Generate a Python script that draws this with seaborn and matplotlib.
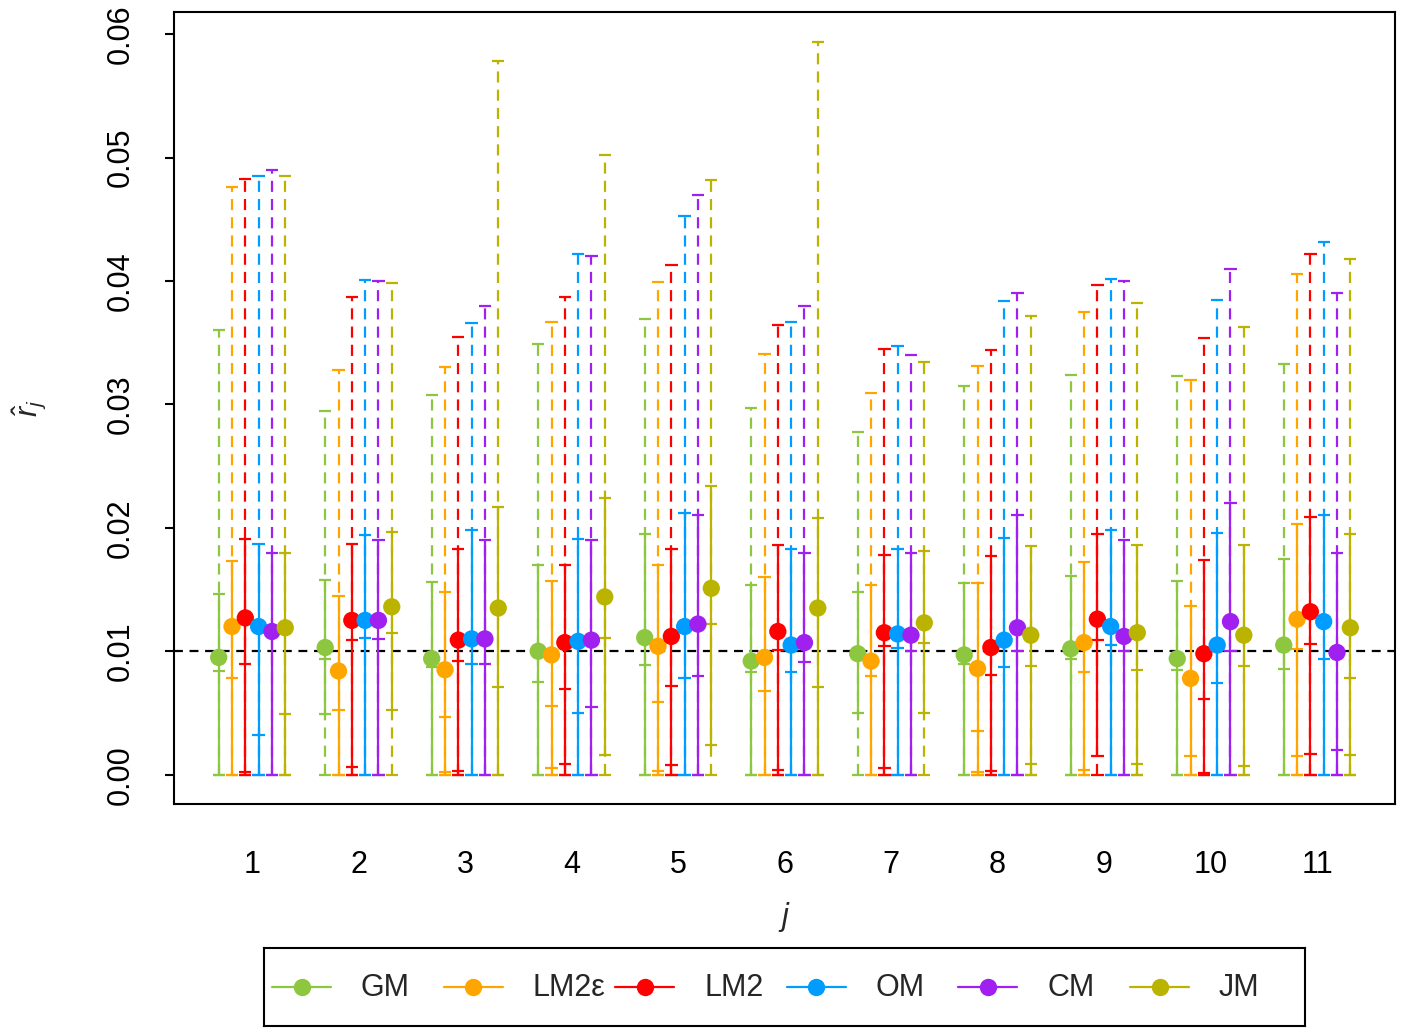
import numpy as np
import pandas as pd
import matplotlib
matplotlib.use("Agg")
import matplotlib.pyplot as plt
import seaborn as sns

# ---------------- data ----------------
groups = list(range(1, 12))
models = ["GM", "LM2ε", "LM2", "OM", "CM", "JM"]
colors = ["#8DC63F", "#FFA500", "#FF0000", "#009CFF", "#A020F0", "#BAB400"]
nan = np.nan

# point estimates
estimate = [
    [0.0095, 0.0103, 0.0094, 0.0100, 0.0111, 0.0092, 0.0098, 0.0097, 0.0102, 0.0094, 0.0105],  # GM
    [0.0120, 0.0084, 0.0085, 0.0097, 0.0104, 0.0095, 0.0092, 0.0086, 0.0107, 0.0078, 0.0126],  # LM2e
    [0.0127, 0.0125, 0.0109, 0.0107, 0.0112, 0.0116, 0.0115, 0.0103, 0.0126, 0.0098, 0.0132],  # LM2
    [0.0120, 0.0125, 0.0110, 0.0108, 0.0120, 0.0105, 0.0114, 0.0109, 0.0120, 0.0105, 0.0124],  # OM
    [0.0116, 0.0125, 0.0110, 0.0109, 0.0122, 0.0107, 0.0113, 0.0119, 0.0112, 0.0124, 0.0099],  # CM
    [0.0119, 0.0136, 0.0135, 0.0144, 0.0151, 0.0135, 0.0123, 0.0113, 0.0115, 0.0113, 0.0119],  # JM
]
# upper end of the dashed interval (dashed interval starts at 0)
dashed_hi = [
    [0.0360, 0.0295, 0.0308, 0.0349, 0.0369, 0.0297, 0.0278, 0.0315, 0.0324, 0.0323, 0.0333],
    [0.0476, 0.0328, 0.0330, 0.0367, 0.0399, 0.0341, 0.0309, 0.0331, 0.0375, 0.0320, 0.0406],
    [0.0483, 0.0387, 0.0355, 0.0387, 0.0413, 0.0364, 0.0345, 0.0344, 0.0397, 0.0354, 0.0422],
    [0.0485, 0.0401, 0.0366, 0.0422, 0.0453, 0.0367, 0.0347, 0.0384, 0.0402, 0.0385, 0.0432],
    [0.0490, 0.0400, 0.0380, 0.0420, 0.0470, 0.0380, 0.0340, 0.0390, 0.0400, 0.0410, 0.0390],
    [0.0485, 0.0398, 0.0578, 0.0502, 0.0482, 0.0594, 0.0334, 0.0372, 0.0382, 0.0363, 0.0418],
]
# solid interval
solid_lo = [
    [0.0, 0.0049, 0.0, 0.0, 0.0, 0.0, 0.0050, 0.0, 0.0, 0.0, 0.0],
    [0.0] * 11,
    [0.0, 0.0, 0.0, 0.0, 0.0, 0.0, 0.0, 0.0, 0.0015, 0.0, 0.0],
    [0.0] * 11,
    [0.0] * 11,
    [0.0, 0.0052, 0.0, 0.0016, 0.0024, 0.0, 0.0050, 0.0, 0.0, 0.0, 0.0],
]
solid_hi = [
    [0.0146, 0.0158, 0.0156, 0.0170, 0.0195, 0.0154, 0.0148, 0.0155, 0.0161, 0.0157, 0.0175],
    [0.0173, 0.0145, 0.0148, 0.0157, 0.0170, 0.0160, 0.0154, 0.0155, 0.0172, 0.0137, 0.0203],
    [0.0191, 0.0187, 0.0183, 0.0170, 0.0183, 0.0186, 0.0178, 0.0177, 0.0195, 0.0174, 0.0209],
    [0.0187, 0.0194, 0.0198, 0.0191, 0.0212, 0.0183, 0.0183, 0.0192, 0.0198, 0.0196, 0.0210],
    [0.0180, 0.0190, 0.0190, 0.0190, 0.0210, 0.0180, 0.0180, 0.0210, 0.0190, 0.0220, 0.0180],
    [0.0180, 0.0197, 0.0217, 0.0224, 0.0234, 0.0208, 0.0181, 0.0185, 0.0186, 0.0186, 0.0195],
]
# additional interval end marks
extra_a = [
    [0.0084, 0.0094, 0.0087, 0.0075, 0.0089, 0.0083, nan, 0.0090, 0.0094, 0.0085, 0.0086],
    [0.0078, 0.0052, 0.0047, 0.0056, 0.0059, 0.0068, 0.0080, 0.0035, 0.0083, 0.0015, 0.0102],
    [0.0090, 0.0109, 0.0092, 0.0069, 0.0072, 0.0101, 0.0104, 0.0081, 0.0109, 0.0061, 0.0106],
    [0.0032, 0.0111, 0.0090, 0.0050, 0.0078, 0.0083, 0.0103, 0.0087, 0.0105, 0.0074, 0.0094],
    [nan, 0.0110, 0.0090, 0.0055, 0.0080, 0.0091, 0.0100, 0.0100, 0.0100, 0.0100, 0.0020],
    [0.0049, 0.0115, 0.0071, 0.0111, 0.0122, 0.0071, 0.0107, 0.0088, 0.0085, 0.0088, 0.0078],
]
extra_b = [
    [nan] * 11,
    [nan, nan, 0.0002, 0.0005, 0.0003, nan, nan, 0.0002, 0.0004, nan, 0.0015],
    [0.0002, 0.0006, 0.0003, 0.0009, 0.0008, 0.0004, 0.0005, 0.0003, nan, 0.0001, 0.0017],
    [nan] * 11,
    [nan] * 11,
    [nan, nan, nan, nan, nan, nan, nan, 0.0009, 0.0009, 0.0007, 0.0016],
]
reference_value = 0.01
ytick_vals = [0.00, 0.01, 0.02, 0.03, 0.04, 0.05, 0.06]
ytick_labels = ["0.00", "0.01", "0.02", "0.03", "0.04", "0.05", "0.06"]

# ---------------- style ----------------
sns.set_style("white")
plt.rcParams["font.family"] = ["Liberation Sans", "DejaVu Sans"]
plt.rcParams["mathtext.fontset"] = "custom"
plt.rcParams["mathtext.rm"] = "Liberation Sans"
plt.rcParams["mathtext.it"] = "Liberation Sans:italic"

W, H = 1411, 1028
fig = plt.figure(figsize=(W / 100, H / 100), dpi=100)
ax = fig.add_axes([174 / W, 1 - 804 / H, (1395 - 174) / W, (804 - 12) / H])

step = 0.125
offsets = [(i - 2.5) * step for i in range(len(models))]
cap = 0.058
lw = 1.6
dash = (0, (5.0, 3.2))

ax.axhline(reference_value, color="black", lw=1.6, ls=(0, (4, 3)), zorder=1)

rows = []
for i, (m, c) in enumerate(zip(models, colors)):
    x = np.array(groups) + offsets[i]
    dh = np.array(dashed_hi[i])
    sl = np.array(solid_lo[i])
    sh = np.array(solid_hi[i])
    ax.vlines(x, 0, dh, colors=c, lw=lw, linestyles=[dash], zorder=2)
    ax.vlines(x, sl, sh, colors=c, lw=lw, zorder=2.5)
    marks = [np.zeros(len(x)), sl, sh, dh, np.array(extra_a[i]), np.array(extra_b[i])]
    for v in marks:
        ok = ~np.isnan(v)
        ax.hlines(v[ok], x[ok] - cap, x[ok] + cap, colors=c, lw=lw, zorder=2.5)
    for g, xv, e in zip(groups, x, estimate[i]):
        rows.append({"j": g, "model": m, "x": xv, "est": e})

df = pd.DataFrame(rows)
sns.scatterplot(data=df, x="x", y="est", hue="model", hue_order=models,
                palette=dict(zip(models, colors)), s=155, linewidth=0,
                legend=False, ax=ax, zorder=4)

ax.set_xlim(0.268, 11.732)
ax.set_ylim(-0.00238, 0.0618)
ax.set_xticks(groups)
ax.set_xticklabels([str(g) for g in groups])
ax.set_yticks(ytick_vals)
ax.set_yticklabels(ytick_labels, rotation=90, va="center")
ax.tick_params(axis="x", length=0, pad=33, labelsize=22, colors="black")
ax.tick_params(axis="y", length=6.5, width=1.5, pad=21, labelsize=22, colors="black", left=True)
for sp in ax.spines.values():
    sp.set_color("black")
    sp.set_linewidth(1.5)
    sp.set_visible(True)

ax.set_xlabel("$j$", fontsize=22)
ax.set_ylabel(r"$\hat{r}_j$", fontsize=22)
ax.xaxis.set_label_coords(0.5, -0.121)
ax.yaxis.set_label_coords(-0.103, 0.5)

# ---------------- legend ----------------
lax = fig.add_axes([264 / W, 1 - 1026 / H, (1305 - 264) / W, (1026 - 948) / H])
lax.set_xlim(264, 1305)
lax.set_ylim(1026, 948)
lax.set_xticks([])
lax.set_yticks([])
for sp in lax.spines.values():
    sp.set_color("black")
    sp.set_linewidth(1.5)
    sp.set_visible(True)
sp_x = 171.6
for k, (m, c) in enumerate(zip(models, colors)):
    x0 = 272 + sp_x * k
    lax.plot([x0, x0 + 59], [987, 987], color=c, lw=lw)
    lax.plot([x0 + 29.5], [987], "o", ms=12.5, color=c, mec=c, mew=0)
    lax.text(361 + sp_x * k, 988, m, va="center", ha="left", fontsize=22)

fig.savefig("out.png", dpi=100)
